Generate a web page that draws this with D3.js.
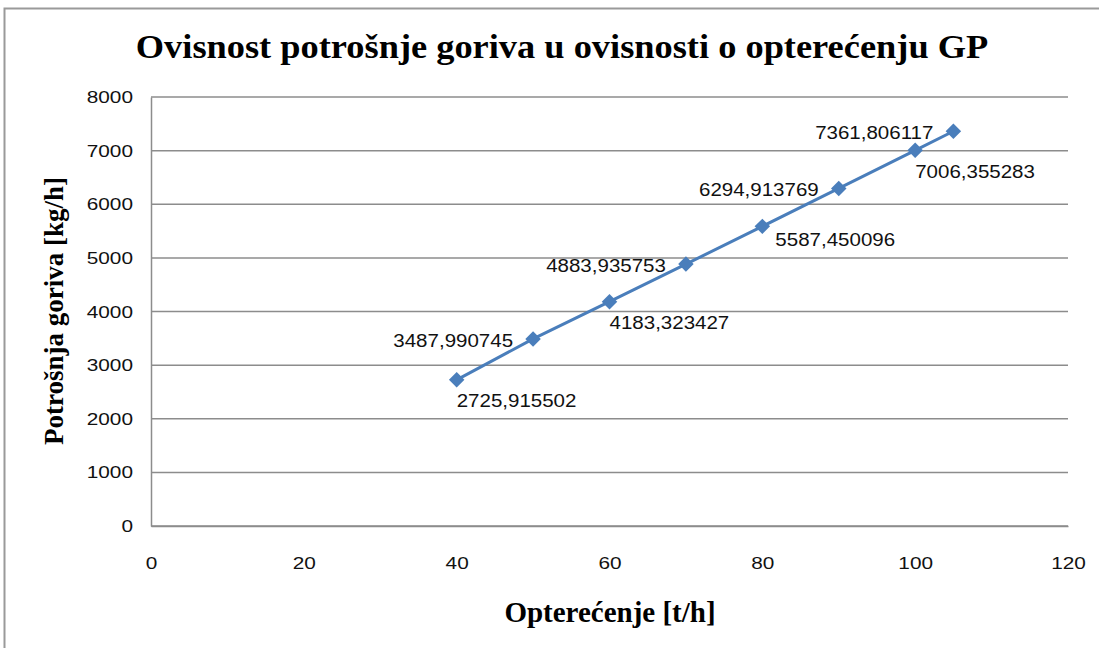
<!DOCTYPE html>
<html>
<head>
<meta charset="utf-8">
<script src="https://cdn.jsdelivr.net/npm/d3@7"></script>
<style>
  body { margin: 0; background: #fff; }
</style>
</head>
<body>
<div id="chart"></div>
<script>
// Data

    var loadValues = [40, 50, 60, 70, 80, 90, 100, 105];
    var fuelValues = [2725.915502, 3487.990745, 4183.323427, 4883.935753,
                      5587.450096, 6294.913769, 7006.355283, 7361.806117];
    var fuelLabels = ["2725,915502", "3487,990745", "4183,323427", "4883,935753",
                      "5587,450096", "6294,913769", "7006,355283", "7361,806117"];
    var xTickValues = [0, 20, 40, 60, 80, 100, 120];
    var yTickValues = [0, 1000, 2000, 3000, 4000, 5000, 6000, 7000, 8000];

    var chartTitle = "Ovisnost potrošnje goriva u ovisnosti o opterećenju GP";
    var xTitle = "Opterećenje [t/h]";
    var yTitle = "Potrošnja goriva [kg/h]";


// Constants setup

    var svgWidth  = 1099;
    var svgHeight = 648;

    var margin = { top: 97, right: 31, bottom: 122, left: 151 },
        width  = svgWidth - margin.left - margin.right,
        height = svgHeight - margin.top - margin.bottom;

    var blue = "#4a7ebb";
    var gridGray = "#8c8c8c";
    var sansFont = "'Liberation Sans', Arial, sans-serif";
    var serifFont = "'Liberation Serif', 'Times New Roman', serif";

    // one label was dragged by hand in the original
    var labelNudge = { 4: [13, -8] };


// Start of SVG

    var svg = d3.select("#chart")
        .append("svg")
            .attr("width", svgWidth)
            .attr("height", svgHeight);

    // chart frame (runs off the right and bottom edges)
    svg.append("rect")
        .attr("x", 4.5)
        .attr("y", 8.5)
        .attr("width", 1200)
        .attr("height", 700)
        .attr("fill", "none")
        .attr("stroke", "#9a9a9a")
        .attr("stroke-width", 2);

    // title
    svg.append("text")
        .attr("transform", "translate(562, 58) scale(1.07, 1)")
        .attr("text-anchor", "middle")
        .attr("font-family", serifFont)
        .attr("font-weight", "bold")
        .attr("font-size", 34)
        .attr("fill", "#000")
        .text(chartTitle);

    var plot = svg.append("g")
        .attr("transform", `translate(${margin.left}, ${margin.top})`);


    // scales
    var x = d3.scaleLinear().domain([0, 120]).range([0, width]);
    var y = d3.scaleLinear().domain([0, 8000]).range([height, 0]);

    // gridlines
    plot.append("g")
        .selectAll("line")
        .data(yTickValues)
        .enter()
        .append("line")
            .attr("x1", 0)
            .attr("x2", width)
            .attr("y1", function(d) { return y(d); })
            .attr("y2", function(d) { return y(d); })
            .attr("stroke", gridGray)
            .attr("stroke-width", 1.5);

    // Y axis
    var yAxis = d3.axisLeft(y).tickValues(yTickValues).tickSize(0).tickFormat(d3.format("d"));
    var yAxisG = plot.append("g").call(yAxis);
    yAxisG.select(".domain").attr("stroke", gridGray).attr("stroke-width", 1.5);
    yAxisG.selectAll("text")
        .attr("x", 0)
        .attr("dy", "0.35em")
        .attr("transform", "translate(-18, 0) scale(1.3, 1)")
        .attr("font-family", sansFont)
        .attr("font-size", 16)
        .attr("fill", "#111");

    // X axis
    var xAxis = d3.axisBottom(x).tickValues(xTickValues).tickSize(0);
    var xAxisG = plot.append("g")
        .attr("transform", "translate(0," + height + ")")
        .call(xAxis);
    xAxisG.select(".domain").attr("stroke", gridGray).attr("stroke-width", 1.5);
    xAxisG.selectAll("text")
        .attr("y", 0)
        .attr("dy", "0.35em")
        .attr("transform", "translate(0, 37) scale(1.3, 1)")
        .attr("font-family", sansFont)
        .attr("font-size", 16)
        .attr("fill", "#111");

    // axis titles
    svg.append("text")
        .attr("transform", "translate(610, 622)")
        .attr("text-anchor", "middle")
        .attr("font-family", serifFont)
        .attr("font-weight", "bold")
        .attr("font-size", 29)
        .attr("fill", "#000")
        .text(xTitle);

    svg.append("text")
        .attr("transform", "translate(63, 311) rotate(-90)")
        .attr("text-anchor", "middle")
        .attr("font-family", serifFont)
        .attr("font-weight", "bold")
        .attr("font-size", 27)
        .attr("fill", "#000")
        .text(yTitle);


    // series
    var points = loadValues.map(function(v, i) {
        return { load: v, fuel: fuelValues[i], label: fuelLabels[i], i: i };
    });

    plot.append("path")
        .datum(points)
        .attr("fill", "none")
        .attr("stroke", blue)
        .attr("stroke-width", 3)
        .attr("d", d3.line()
            .x(function(d) { return x(d.load); })
            .y(function(d) { return y(d.fuel); }));

    // diamond markers (square turned 45 degrees)
    plot.append("g")
        .selectAll("path")
        .data(points)
        .enter()
        .append("path")
            .attr("d", d3.symbol().type(d3.symbolSquare).size(120))
            .attr("transform", function(d) {
                return `translate(${x(d.load)}, ${y(d.fuel)}) rotate(45)`;
            })
            .attr("fill", blue);

    // data labels: alternate below-right and left
    plot.append("g")
        .selectAll("text")
        .data(points)
        .enter()
        .append("text")
            .attr("transform", function(d) {
                var nudge = labelNudge[d.i] || [0, 0];
                var lx = x(d.load) + (d.i % 2 === 0 ? 0 : -20) + nudge[0];
                var ly = y(d.fuel) + (d.i % 2 === 0 ? 21 : 1) + nudge[1];
                return `translate(${lx}, ${ly}) scale(1.08, 1)`;
            })
            .attr("text-anchor", function(d) { return d.i % 2 === 0 ? "start" : "end"; })
            .attr("dy", "0.35em")
            .attr("font-family", sansFont)
            .attr("font-size", 19)
            .attr("fill", "#111")
            .text(function(d) { return d.label; });
</script>
</body>
</html>
